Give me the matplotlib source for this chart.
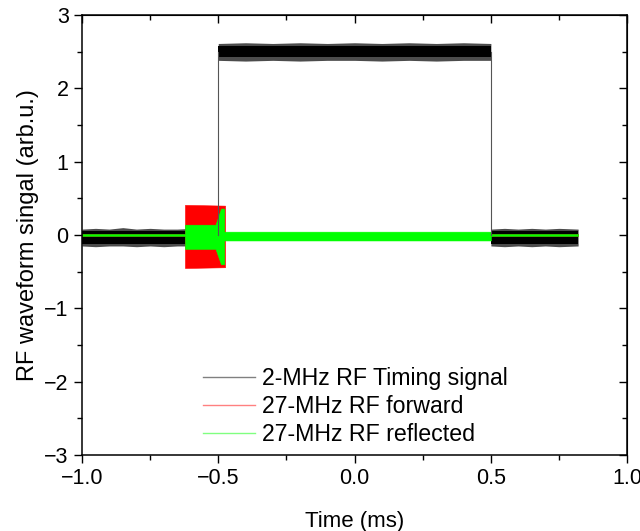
import matplotlib
matplotlib.use("Agg")
import matplotlib.pyplot as plt
from matplotlib.ticker import MultipleLocator
from matplotlib.lines import Line2D

plt.rcParams["font.family"] = ["Liberation Sans", "DejaVu Sans"]
plt.rcParams["axes.unicode_minus"] = True

# 2-MHz timing signal: outer (peak) envelope of the band, time in ms
timing_low1_t = [-1.0, -0.95, -0.9, -0.85, -0.8, -0.75, -0.7, -0.65, -0.6, -0.55, -0.5]
timing_low1_hi = [0.08, 0.09, 0.08, 0.1, 0.08, 0.09, 0.08, 0.08, 0.09, 0.08, 0.08]
timing_low1_lo = [-0.15, -0.16, -0.15, -0.15, -0.16, -0.15, -0.16, -0.15, -0.15, -0.16, -0.15]

timing_high_t = [-0.5, -0.4, -0.3, -0.2, -0.1, 0.0, 0.1, 0.2, 0.3, 0.4, 0.5]
timing_high_hi = [2.61, 2.62, 2.61, 2.62, 2.61, 2.62, 2.61, 2.62, 2.61, 2.62, 2.61]
timing_high_lo = [2.38, 2.37, 2.38, 2.37, 2.38, 2.38, 2.37, 2.38, 2.37, 2.38, 2.38]

timing_low2_t = [0.5, 0.55, 0.6, 0.65, 0.7, 0.75, 0.82]
timing_low2_hi = [0.08, 0.09, 0.08, 0.09, 0.08, 0.09, 0.08]
timing_low2_lo = [-0.15, -0.16, -0.15, -0.16, -0.15, -0.16, -0.15]

# dense core of the timing bands (lower, upper)
timing_low_core = (-0.12, 0.055)
timing_high_core = (2.43, 2.57)

edge_times = [-0.5, 0.5]
low_level = 0.0
high_level = 2.5

# 27-MHz forward
fwd_t = [-1.0, -0.622, -0.622, -0.475, -0.475, 0.82]
fwd_hi = [0.012, 0.012, 0.41, 0.40, 0.012, 0.012]
fwd_lo = [-0.012, -0.012, -0.45, -0.44, -0.012, -0.012]

# 27-MHz reflected
refl_t = [-1.0, -0.622, -0.622, -0.51, -0.49, -0.478, -0.478, 0.5, 0.5, 0.82]
refl_hi = [0.012, 0.012, 0.14, 0.14, 0.36, 0.36, 0.045, 0.045, 0.012, 0.012]
refl_lo = [-0.012, -0.012, -0.19, -0.19, -0.40, -0.40, -0.075, -0.075, -0.012, -0.012]

labels = ["2-MHz RF Timing signal", "27-MHz RF forward", "27-MHz RF reflected"]
colors = ["#000000", "#ff0000", "#00ff00"]
legend_colors = ["#808080", "#ff8080", "#80ff80"]

fig = plt.figure(figsize=(6.4, 5.31), dpi=100)
ax = fig.add_axes([0.128, 0.143, 0.852, 0.829])

# timing signal: fuzzy outer band, dense core, thin edges
for t, hi, lo, core in [
    (timing_low1_t, timing_low1_hi, timing_low1_lo, timing_low_core),
    (timing_high_t, timing_high_hi, timing_high_lo, timing_high_core),
    (timing_low2_t, timing_low2_hi, timing_low2_lo, timing_low_core),
]:
    ax.fill_between(t, lo, hi, color=colors[0], alpha=0.7, linewidth=0)
    ax.fill_between([t[0], t[-1]], core[0], core[1], color=colors[0], linewidth=0)
for et in edge_times:
    ax.plot([et, et], [low_level, high_level], color="#555555", linewidth=0.8)

ax.fill_between(fwd_t, fwd_lo, fwd_hi, color=colors[1], linewidth=0.4, edgecolor=colors[1])
ax.fill_between(refl_t, refl_lo, refl_hi, color=colors[2], linewidth=0.4, edgecolor=colors[2])

ax.set_xlim(-1.0, 1.0)
ax.set_ylim(-3, 3)
ax.xaxis.set_major_locator(MultipleLocator(0.5))
ax.xaxis.set_minor_locator(MultipleLocator(0.25))
ax.yaxis.set_major_locator(MultipleLocator(1))
ax.yaxis.set_minor_locator(MultipleLocator(0.5))
ax.xaxis.set_major_formatter(lambda v, p: f"{v:.1f}".replace("-", "\u2212"))
ax.tick_params(which="both", direction="out", width=1.0, labelsize=15.5, colors="black")
ax.tick_params(which="major", length=6)
ax.tick_params(which="minor", length=3.5)
for s in ax.spines.values():
    s.set_linewidth(1.1)

# mirrored ticks pointing inwards on top and right
top = ax.secondary_xaxis("top")
top.xaxis.set_major_locator(MultipleLocator(0.5))
top.xaxis.set_minor_locator(MultipleLocator(0.25))
top.tick_params(which="both", direction="in", labeltop=False, width=1.0)
top.tick_params(which="major", length=6)
top.tick_params(which="minor", length=3.5)
right = ax.secondary_yaxis("right")
right.yaxis.set_major_locator(MultipleLocator(1))
right.yaxis.set_minor_locator(MultipleLocator(0.5))
right.tick_params(which="both", direction="in", labelright=False, width=1.0)
right.tick_params(which="major", length=6)
right.tick_params(which="minor", length=3.5)

ax.set_xlabel("Time (ms)", fontsize=16, labelpad=16)
ax.set_ylabel("RF waveform singal (arb.u.)", fontsize=17, labelpad=4)

handles = [Line2D([], [], color=c, linewidth=1.0) for c in legend_colors]
ax.legend(handles, labels, loc="upper left", bbox_to_anchor=(0.205, 0.222),
          frameon=False, fontsize=16.7, handlelength=2.25, handletextpad=0.3,
          labelspacing=0.22, borderaxespad=0)

fig.savefig("out.png", dpi=100)
